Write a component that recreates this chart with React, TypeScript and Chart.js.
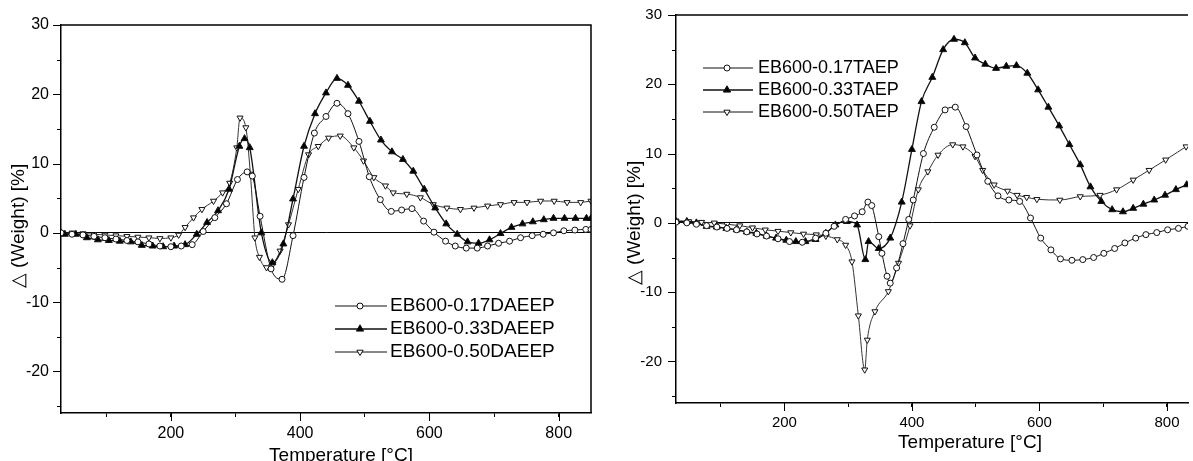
import React, { useEffect, useRef } from 'react';
import { Chart, registerables } from 'chart.js';

Chart.register(...registerables);

// ---------- Left panel (DAEEP) ----------
const leftTemp017 = [30, 47, 64, 81, 98, 115, 132, 149, 166, 183, 200, 216, 233, 250, 268, 286, 303, 318, 326, 338, 355, 372, 389, 406, 422, 440, 457, 474, 491, 507, 524, 541, 557, 573, 591, 607, 625, 640, 657, 674, 690, 707, 724, 741, 759, 776, 792, 808, 825, 842, 850];
const leftVal017 = [0, -0.2, -0.3, -0.5, -0.7, -0.9, -1.1, -1.3, -1.6, -1.9, -2.0, -1.9, -1.7, 0.2, 2.2, 4.2, 7.7, 8.8, 8.2, 2.4, -5.2, -6.7, -0.4, 8.0, 14.4, 16.8, 18.7, 17.2, 13.2, 8.1, 4.8, 3.1, 3.3, 3.5, 1.7, 0.1, -1.2, -1.9, -2.2, -2.2, -1.9, -1.5, -1.2, -0.7, -0.4, -0.2, 0, 0.3, 0.4, 0.5, 0.5];

const leftTemp033 = [30, 36, 53, 70, 87, 104, 121, 138, 155, 172, 188, 205, 222, 240, 256, 273, 290, 306, 314, 322, 340, 357, 374, 389, 406, 423, 440, 457, 474, 491, 508, 525, 542, 559, 575, 592, 609, 626, 643, 659, 676, 693, 710, 727, 744, 760, 777, 792, 809, 826, 843, 850];
const leftVal033 = [0, -0.2, -0.2, -0.7, -1.0, -1.1, -1.2, -1.3, -1.8, -1.9, -2.0, -1.9, -1.7, -0.2, 1.5, 3.2, 6.3, 12.5, 13.6, 12.3, 0, -4.3, -1.6, 4.9, 12.5, 17.2, 20.2, 22.3, 21.3, 19.0, 16.1, 13.4, 11.7, 10.6, 8.9, 6.3, 3.6, 1.3, -0.2, -1.3, -1.5, -1.0, -0.1, 0.8, 1.3, 1.6, 1.9, 2.1, 2.1, 2.1, 2.1, 2.1];

const leftTemp050 = [30, 47, 64, 81, 98, 115, 132, 149, 166, 183, 200, 212, 222, 235, 248, 266, 280, 291, 302, 307, 316, 323, 330, 337, 348, 358, 369, 382, 397, 413, 428, 444, 462, 483, 498, 514, 532, 544, 565, 586, 606, 627, 648, 669, 690, 710, 731, 751, 772, 793, 813, 834, 850];
const leftVal050 = [0, 0, -0.1, -0.2, -0.3, -0.4, -0.5, -0.6, -0.7, -0.8, -0.7, -0.3, 0.8, 2.2, 3.4, 4.6, 5.8, 7.2, 12.3, 16.6, 15.2, 8.5, -0.7, -3.5, -5.0, -4.5, -2.6, 1.2, 6.3, 11.3, 12.5, 13.7, 14.0, 12.3, 10.4, 8.0, 6.8, 5.8, 5.6, 5.1, 4.1, 3.6, 3.4, 3.6, 3.9, 4.1, 4.4, 4.4, 4.6, 4.6, 4.4, 4.4, 4.6];

const leftLabels = ['EB600-0.17DAEEP', 'EB600-0.33DAEEP', 'EB600-0.50DAEEP'];

// ---------- Right panel (TAEP) ----------
const rightTemp017 = [30, 47, 62, 78, 94, 110, 125, 141, 157, 172, 190, 208, 228, 249, 265, 278, 296, 310, 322, 331, 337, 348, 353, 361, 366, 376, 386, 395, 402, 418, 435, 452, 468, 485, 502, 519, 535, 552, 569, 586, 602, 618, 633, 651, 668, 685, 701, 718, 734, 751, 767, 784, 801, 818, 833];
const rightVal017 = [0.1, 0, -0.2, -0.4, -0.6, -0.8, -1.0, -1.3, -1.6, -1.9, -2.3, -2.7, -2.8, -2.2, -1.5, -0.5, 0.5, 1.0, 1.6, 3.0, 2.5, -2.0, -4.4, -7.7, -8.7, -6.5, -3.0, 0.5, 3.3, 10.0, 13.8, 16.3, 16.7, 13.9, 9.8, 6.0, 3.9, 3.3, 3.1, 0.7, -2.2, -3.9, -5.2, -5.4, -5.3, -5.0, -4.4, -3.7, -2.9, -2.2, -1.7, -1.4, -1.0, -0.8, -0.5];

const rightTemp033 = [30, 47, 62, 78, 94, 109, 125, 141, 156, 172, 187, 203, 218, 233, 249, 265, 280, 298, 314, 327, 332, 348, 366, 384, 400, 415, 432, 449, 466, 483, 499, 515, 532, 548, 564, 581, 598, 614, 631, 647, 664, 680, 697, 714, 731, 747, 763, 780, 797, 814, 831];
const rightVal033 = [0.2, 0.2, 0, -0.5, -0.6, -0.8, -1.0, -1.3, -1.5, -1.9, -2.2, -2.5, -2.7, -2.7, -2.4, -1.5, -0.3, 0.2, -0.3, -5.3, -2.7, -3.7, -2.2, 3.0, 10.6, 17.5, 21.0, 25.0, 26.5, 26.0, 23.8, 22.9, 22.3, 22.6, 22.7, 21.6, 19.2, 16.7, 14.0, 11.3, 8.4, 5.2, 3.1, 1.9, 1.6, 2.1, 2.7, 3.3, 4.0, 4.8, 5.5];

const rightTemp050 = [30, 50, 70, 90, 110, 130, 150, 170, 190, 210, 230, 250, 265, 283, 296, 306, 316, 326, 330, 342, 363, 379, 397, 410, 425, 441, 464, 480, 499, 511, 529, 550, 565, 580, 596, 632, 664, 695, 721, 747, 772, 798, 830];
const rightVal050 = [0.3, 0.2, 0.1, 0, -0.2, -0.4, -0.7, -1.0, -1.2, -1.4, -1.6, -1.7, -1.9, -2.4, -3.2, -5.6, -13.4, -21.2, -16.9, -12.8, -9.9, -5.8, -0.4, 4.8, 7.4, 9.8, 11.3, 11.0, 9.6, 7.6, 5.5, 4.6, 4.0, 3.7, 3.4, 3.3, 3.8, 4.0, 4.8, 6.2, 7.6, 9.1, 11.0];

const rightLabels = ['EB600-0.17TAEP', 'EB600-0.33TAEP', 'EB600-0.50TAEP'];

// ---------- Axes ----------
const xMin = 30;
const leftXMax = 850;
const rightXMax = 833;
const yMin = -26;
const yMax = 30;
const xTickValues = [100, 200, 300, 400, 500, 600, 700, 800];
const xLabeledTicks = [200, 400, 600, 800];
const yTickValues = [-25, -20, -15, -10, -5, 0, 5, 10, 15, 20, 25, 30];
const yLabeledTicks = [-20, -10, 0, 10, 20, 30];
const xTitle = 'Temperature [°C]';
const yTitle = '△ (Weight) [%]';

const FONT = '"Liberation Sans", Arial, Helvetica, sans-serif';
const MINOR_TICK = 4;
const MAJOR_TICK = 8;

type Marker = 'circle' | 'up' | 'down';
const markers: Marker[] = ['circle', 'up', 'down'];

function pts(xs: number[], ys: number[]) {
  return xs.map((x, i) => ({ x, y: ys[i] }));
}

function drawMarker(ctx: CanvasRenderingContext2D, kind: Marker, x: number, y: number) {
  ctx.save();
  ctx.lineWidth = 1;
  ctx.strokeStyle = '#111';
  ctx.beginPath();
  if (kind === 'circle') {
    ctx.arc(x, y, 3, 0, Math.PI * 2);
    ctx.fillStyle = '#fff';
  } else {
    const r = kind === 'up' ? 4.2 : 3.6;
    let rad = kind === 'up' ? 0 : Math.PI;
    ctx.moveTo(x + Math.sin(rad) * r, y - Math.cos(rad) * r);
    rad += (2 * Math.PI) / 3;
    ctx.lineTo(x + Math.sin(rad) * r, y - Math.cos(rad) * r);
    rad += (2 * Math.PI) / 3;
    ctx.lineTo(x + Math.sin(rad) * r, y - Math.cos(rad) * r);
    ctx.closePath();
    ctx.fillStyle = kind === 'up' ? '#000' : '#fff';
  }
  ctx.fill();
  ctx.stroke();
  ctx.restore();
}

type Spec = {
  series: { t: number[]; v: number[] }[];
  labels: string[];
  xMax: number;
  yAxisWidth: number;
  xAxisHeight: number;
  padTop: number;
  padRight: number;
  tickSize: number;
  tickPadX: number;
  yLabelGap: number;
  rightBorder: boolean;
  legend: { x1: number; x2: number; mx: number; tx: number; rows: number[]; size: number };
  titleSize: number;
  xTitlePos: [number, number];
  yTitlePos: [number, number];
};

function makeConfig(spec: Spec): any {
  const datasets = spec.series.map((s, i) => {
    const kind = markers[i];
    return {
      label: spec.labels[i],
      data: pts(s.t, s.v),
      borderColor: i === 2 ? '#333' : '#111',
      borderWidth: i === 1 ? 1.3 : 1,
      pointStyle: kind === 'circle' ? 'circle' : 'triangle',
      pointRotation: kind === 'down' ? 180 : 0,
      pointRadius: kind === 'circle' ? 3 : kind === 'up' ? 4 : 3.5,
      pointBackgroundColor: kind === 'up' ? '#000' : '#fff',
      pointBorderColor: '#111',
      pointBorderWidth: 1,
      cubicInterpolationMode: 'monotone',
      fill: false,
    };
  });

  const decor = {
    id: 'decor',
    afterDraw(chart: any) {
      const { ctx, chartArea: a } = chart;
      const xs = chart.scales.x;
      const ys = chart.scales.y;
      ctx.save();
      ctx.strokeStyle = '#000';
      ctx.lineWidth = 1.5;
      ctx.beginPath();
      ctx.moveTo(a.left, a.top);
      ctx.lineTo(a.right, a.top);
      if (spec.rightBorder) ctx.lineTo(a.right, a.bottom);
      ctx.stroke();

      // longer major tick marks on x, all tick marks on y
      ctx.lineWidth = 1;
      ctx.beginPath();
      xLabeledTicks.forEach((v) => {
        const px = Math.round(xs.getPixelForValue(v)) + 0.5;
        ctx.moveTo(px, a.bottom);
        ctx.lineTo(px, a.bottom + MAJOR_TICK);
      });
      yTickValues.forEach((v) => {
        const py = Math.round(ys.getPixelForValue(v)) + 0.5;
        const len = yLabeledTicks.includes(v) ? MAJOR_TICK : MINOR_TICK;
        ctx.moveTo(a.left, py);
        ctx.lineTo(a.left - len, py);
      });
      ctx.stroke();

      // legend
      const L = spec.legend;
      ctx.font = `${L.size}px ${FONT}`;
      ctx.textAlign = 'left';
      ctx.textBaseline = 'middle';
      spec.labels.forEach((lab, i) => {
        const y = L.rows[i];
        ctx.strokeStyle = '#111';
        ctx.lineWidth = i === 1 ? 1.3 : 1;
        ctx.beginPath();
        ctx.moveTo(L.x1, y);
        ctx.lineTo(L.x2, y);
        ctx.stroke();
        drawMarker(ctx, markers[i], L.mx, y);
        ctx.fillStyle = '#000';
        ctx.fillText(lab, L.tx, y);
      });

      // axis titles
      ctx.fillStyle = '#000';
      ctx.font = `${spec.titleSize}px ${FONT}`;
      ctx.textAlign = 'center';
      ctx.textBaseline = 'middle';
      ctx.fillText(xTitle, spec.xTitlePos[0], spec.xTitlePos[1]);
      ctx.translate(spec.yTitlePos[0], spec.yTitlePos[1]);
      ctx.rotate(-Math.PI / 2);
      ctx.fillText(yTitle, 0, 0);
      ctx.restore();
    },
  };

  return {
    type: 'line',
    data: { datasets },
    plugins: [decor],
    options: {
      animation: false,
      responsive: false,
      events: [],
      layout: { padding: { top: spec.padTop, right: spec.padRight, left: 0, bottom: 0 } },
      plugins: { legend: { display: false }, tooltip: { enabled: false }, title: { display: false } },
      scales: {
        x: {
          type: 'linear',
          min: xMin,
          max: spec.xMax,
          afterFit: (s: any) => {
            s.height = spec.xAxisHeight;
          },
          afterBuildTicks: (s: any) => {
            s.ticks = xTickValues.map((value) => ({ value }));
          },
          ticks: {
            autoSkip: false,
            maxRotation: 0,
            minRotation: 0,
            padding: spec.tickPadX,
            color: '#000',
            font: { family: FONT, size: spec.tickSize },
            callback: (v: any) => (xLabeledTicks.includes(Number(v)) ? String(v) : ''),
          },
          grid: { drawOnChartArea: false, drawTicks: true, tickLength: MINOR_TICK, tickColor: '#000', tickWidth: 1 },
          border: { display: true, color: '#000', width: 1.5 },
        },
        y: {
          type: 'linear',
          min: yMin,
          max: yMax,
          afterFit: (s: any) => {
            s.width = spec.yAxisWidth;
          },
          afterBuildTicks: (s: any) => {
            s.ticks = yTickValues.map((value) => ({ value }));
          },
          ticks: {
            autoSkip: false,
            padding: 0,
            color: '#000',
            font: { family: FONT, size: spec.tickSize },
            callback: (v: any) => (yLabeledTicks.includes(Number(v)) ? String(v) : ''),
          },
          grid: {
            drawOnChartArea: true,
            color: (c: any) => (c.tick && c.tick.value === 0 ? '#000' : 'rgba(0,0,0,0)'),
            lineWidth: 1,
            tickLength: spec.yLabelGap,
            tickColor: 'rgba(0,0,0,0)',
            tickWidth: 1,
          },
          border: { display: true, color: '#000', width: 1.5 },
        },
      },
    },
  };
}

const LEFT: Spec = {
  series: [
    { t: leftTemp017, v: leftVal017 },
    { t: leftTemp033, v: leftVal033 },
    { t: leftTemp050, v: leftVal050 },
  ],
  labels: leftLabels,
  xMax: leftXMax,
  yAxisWidth: 61,
  xAxisHeight: 475 - 413,
  padTop: 25,
  padRight: 4,
  tickSize: 16,
  tickPadX: 7,
  yLabelGap: 12,
  rightBorder: true,
  legend: { x1: 335, x2: 387, mx: 360, tx: 390, rows: [306, 329, 352], size: 19 },
  titleSize: 19,
  xTitlePos: [341, 456],
  yTitlePos: [18.5, 226],
};

const RIGHT: Spec = {
  series: [
    { t: rightTemp017, v: rightVal017 },
    { t: rightTemp033, v: rightVal033 },
    { t: rightTemp050, v: rightVal050 },
  ],
  labels: rightLabels,
  xMax: rightXMax,
  yAxisWidth: 80,
  xAxisHeight: 461 - 403,
  padTop: 15,
  padRight: 1,
  tickSize: 15,
  tickPadX: 7,
  yLabelGap: 14,
  rightBorder: false,
  legend: { x1: 107, x2: 157, mx: 131, tx: 162, rows: [68, 90, 112], size: 18 },
  titleSize: 19,
  xTitlePos: [374, 443],
  yTitlePos: [38.5, 223],
};

export default function App() {
  const leftRef = useRef<HTMLCanvasElement>(null);
  const rightRef = useRef<HTMLCanvasElement>(null);

  useEffect(() => {
    const c1 = new Chart(leftRef.current as HTMLCanvasElement, makeConfig(LEFT));
    const c2 = new Chart(rightRef.current as HTMLCanvasElement, makeConfig(RIGHT));
    return () => {
      c1.destroy();
      c2.destroy();
    };
  }, []);

  return (
    <div
      style={{
        position: 'absolute',
        left: 0,
        top: 0,
        width: 1193,
        height: 461,
        overflow: 'hidden',
        background: '#fff',
      }}
    >
      <canvas ref={leftRef} width={596} height={475} style={{ position: 'absolute', left: 0, top: 0 }} />
      <canvas ref={rightRef} width={597} height={461} style={{ position: 'absolute', left: 596, top: 0 }} />
    </div>
  );
}
